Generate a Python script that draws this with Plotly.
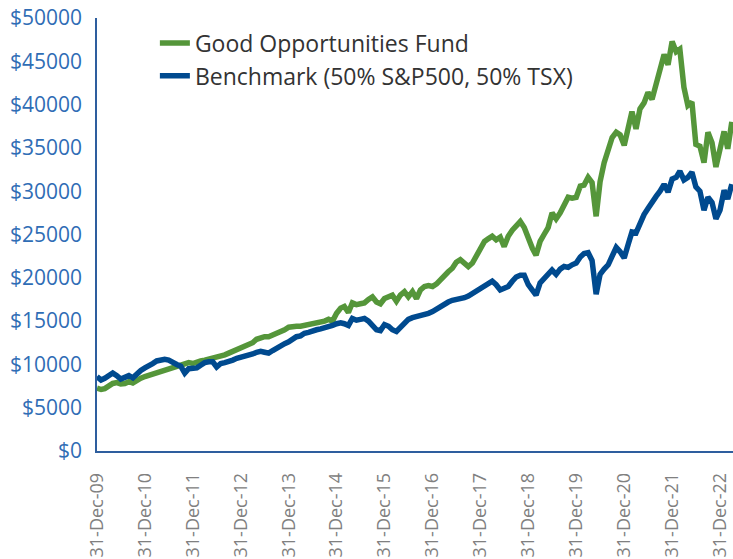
import plotly.graph_objects as go
import pandas as pd

# Monthly month-end dates, Dec 2009 .. Mar 2023
dates = pd.date_range("2009-12-31", "2023-03-31", freq="ME")

fund = [
    7.25, 7.1, 7.2, 7.5, 7.8, 7.9, 7.75, 7.8, 8.0, 7.85,
    8.2, 8.4, 8.6, 8.75, 8.85, 9.0, 9.1, 9.3, 9.4, 9.6,
    9.7, 9.8, 9.9, 10.2, 10.1, 10.3, 10.4, 10.5, 10.6, 10.8,
    10.9, 10.9, 11.1, 11.3, 11.5, 11.7, 11.9, 12.1, 12.3, 12.5,
    12.9, 13.1, 13.2, 13.2, 13.4, 13.5, 13.8, 14.0, 14.3, 14.4,
    14.4, 14.4, 14.5, 14.6, 14.6, 14.7, 14.8, 15.0, 15.2, 15.0,
    15.9, 16.5, 16.7, 16.0, 17.1, 16.9, 17.0, 17.1, 17.5, 17.8,
    17.2, 17.0, 17.6, 17.9, 18.0, 17.3, 18.0, 18.4, 17.8, 18.4,
    17.6, 18.6, 19.0, 19.1, 19.0, 19.3, 19.8, 20.3, 20.7, 21.1,
    21.8, 22.1, 21.6, 21.3, 21.7, 22.5, 23.5, 24.2, 24.5, 24.8,
    24.4, 24.7, 23.6, 24.8, 25.5, 26.1, 26.5, 25.8, 24.4, 23.4,
    22.6, 24.2, 25.0, 25.8, 27.5, 26.8, 27.5, 28.3, 29.3, 29.2,
    29.3, 30.6, 30.7, 31.6, 31.0, 27.1, 31.1, 33.3, 34.8, 36.2,
    36.8, 36.5, 35.3, 37.3, 39.2, 37.2, 39.5, 40.2, 41.4, 40.6,
    42.3, 44.0, 45.8, 44.6, 47.3, 46.1, 46.4, 42.0, 39.9, 40.3,
    35.4, 35.2, 33.3, 36.8, 35.6, 32.8, 35.2, 36.9, 34.9, 38.0,
]

benchmark = [
    8.6, 8.2, 8.4, 8.8, 9.0, 8.7, 8.3, 8.5, 8.7, 8.45,
    9.0, 9.3, 9.6, 9.8, 10.1, 10.4, 10.55, 10.6, 10.5, 10.2,
    10.0, 9.8, 9.0, 9.5, 9.6, 9.6, 9.9, 10.2, 10.3, 10.3,
    9.7, 10.1, 10.2, 10.3, 10.5, 10.7, 10.8, 10.9, 11.1, 11.2,
    11.4, 11.5, 11.4, 11.3, 11.6, 11.9, 12.1, 12.4, 12.6, 12.9,
    13.2, 13.3, 13.6, 13.7, 13.9, 14.0, 14.1, 14.2, 14.3, 14.5,
    14.7, 14.8, 14.7, 14.5, 15.3, 15.1, 15.2, 15.3, 15.0, 14.6,
    14.0, 13.9, 14.6, 14.4, 14.0, 13.8, 14.3, 14.9, 15.2, 15.4,
    15.5, 15.7, 15.8, 15.9, 16.1, 16.4, 16.7, 17.0, 17.2, 17.4,
    17.5, 17.5, 17.7, 17.9, 18.2, 18.6, 18.8, 19.2, 19.4, 19.6,
    19.2, 18.6, 18.8, 19.0, 19.6, 20.1, 20.3, 20.3, 19.2, 18.5,
    18.0, 19.4, 19.9, 20.2, 20.9, 20.4, 21.0, 21.3, 21.2, 21.5,
    21.7, 22.4, 22.8, 22.9, 22.0, 18.1, 20.4, 21.0, 21.5, 22.5,
    23.5, 23.0, 22.3, 23.9, 25.3, 25.2, 26.3, 27.3, 28.0, 28.8,
    29.4, 30.0, 30.8, 29.9, 31.4, 31.6, 32.3, 31.3, 31.6, 32.2,
    30.5, 30.0, 27.8, 29.3, 28.7, 26.8, 27.8, 30.1, 29.1, 30.8,
]

fund_values = [v * 1000 for v in fund]
bench_values = [v * 1000 for v in benchmark]

tick_dates = [f"{y}-12-31" for y in range(2009, 2023)]
tick_labels = [f"31-Dec-{y % 100:02d}" for y in range(2009, 2023)]
y_ticks = list(range(0, 50001, 5000))
y_labels = [f"${v}" for v in y_ticks]

GREEN = "#55963A"
BLUE = "#004A8F"

fig = go.Figure()
fig.add_trace(go.Scatter(x=dates, y=fund_values, mode="lines",
                         name="Good Opportunities Fund",
                         line=dict(color=GREEN, width=5.5)))
fig.add_trace(go.Scatter(x=dates, y=bench_values, mode="lines",
                         name="Benchmark (50% S&P500, 50% TSX)",
                         line=dict(color=BLUE, width=5.5)))

fig.update_layout(
    width=733, height=559,
    margin=dict(l=97, r=0, t=18, b=108),
    paper_bgcolor="white", plot_bgcolor="white",
    font=dict(family="Open Sans", color="#333333"),
    showlegend=True,
    legend=dict(x=0.091, y=0.992, xanchor="left", yanchor="top",
                bgcolor="rgba(0,0,0,0)", font=dict(size=23, color="#333333"),
                tracegroupgap=0),
)
fig.update_xaxes(
    type="date",
    range=["2009-12-31", "2023-04-09"],
    tickvals=tick_dates, ticktext=tick_labels,
    tickangle=-90,
    tickfont=dict(size=18, color="#808080"),
    showgrid=False, zeroline=False,
    showline=True, linecolor="#2E5E9E", linewidth=1.5,
    ticks="outside", ticklen=13, tickcolor="rgba(0,0,0,0)",
)
fig.update_yaxes(
    range=[0, 50000],
    tickvals=y_ticks, ticktext=y_labels,
    tickfont=dict(size=21, color="#2F6DB5"),
    showgrid=False, zeroline=False,
    showline=True, linecolor="#2E5E9E", linewidth=1.5,
    ticks="outside", ticklen=9, tickcolor="rgba(0,0,0,0)",
)

fig.write_html("out.html")
